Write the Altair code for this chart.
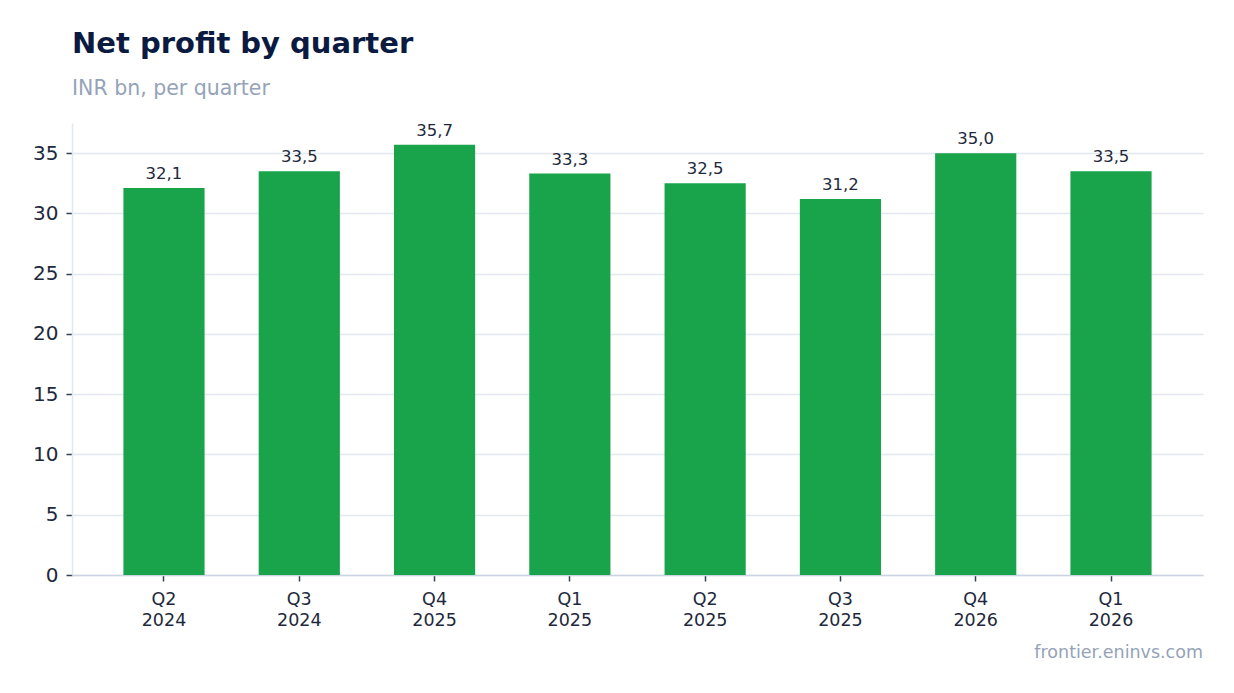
import altair as alt
import pandas as pd

quarters = ["Q2\n2024", "Q3\n2024", "Q4\n2025", "Q1\n2025", "Q2\n2025", "Q3\n2025", "Q4\n2026", "Q1\n2026"]
profit = [32.1, 33.5, 35.7, 33.3, 32.5, 31.2, 35.0, 33.5]

df = pd.DataFrame({"q": quarters, "v": profit})
FONT = "DejaVu Sans"

base = alt.Chart(df)

x = alt.X("q:N", sort=None, title=None,
          scale=alt.Scale(paddingInner=0.4, paddingOuter=0.38),
          axis=alt.Axis(labelAngle=0, labelExpr="split(datum.label, '\\n')",
                        labelFontSize=17.5, labelColor="#1e293b", labelFont=FONT,
                        labelPadding=9, labelLineHeight=21,
                        tickColor="#334155", tickSize=6, tickWidth=1.5,
                        domainColor="#cbd5e1", domainWidth=1.5,
                        grid=False))

bars = base.mark_bar(color="#19a34a").encode(
    x=x,
    y=alt.Y("v:Q", title=None, scale=alt.Scale(domain=[0, 37.5], nice=False),
            axis=alt.Axis(values=[0, 5, 10, 15, 20, 25, 30, 35], labelFontSize=20,
                          labelColor="#1e293b", labelFont=FONT, labelPadding=8,
                          tickColor="#334155", tickSize=6, tickWidth=1.5,
                          domainColor="#e2e8f0", domainWidth=1.5,
                          gridColor="#e2e8f0", gridWidth=1.5)),
)

labels = base.transform_calculate(
    lab="replace(format(datum.v, '.1f'), '.', ',')"
).mark_text(baseline="bottom", dy=-6, fontSize=16.5, font=FONT, color="#1e293b").encode(
    x=alt.X("q:N", sort=None),
    y=alt.Y("v:Q"),
    text="lab:N",
)

footer = alt.Chart(pd.DataFrame({"t": ["frontier.eninvs.com"]})).mark_text(
    align="right", baseline="alphabetic", fontSize=17.5, font=FONT, color="#94a3b8"
).encode(x=alt.value(1131), y=alt.value(535), text="t:N")

chart = alt.layer(bars, labels, footer).properties(
    width=1131, height=452,
    autosize=alt.AutoSizeParams(type="none"),
    padding={"left": 64, "top": 115, "right": 23, "bottom": 110},
    title=alt.TitleParams(
        text="Net profit by quarter",
        subtitle="INR bn, per quarter",
        anchor="start", frame="group", font=FONT, fontSize=29, fontWeight="bold",
        color="#0b1a40",
        subtitleFont=FONT, subtitleFontSize=20.5, subtitleColor="#94a3b8",
        subtitlePadding=20, offset=23,
    ),
).configure_view(stroke=None).configure_axis(labelFont=FONT)

chart.save("out.html", embed_options={"renderer": "svg", "actions": False})
